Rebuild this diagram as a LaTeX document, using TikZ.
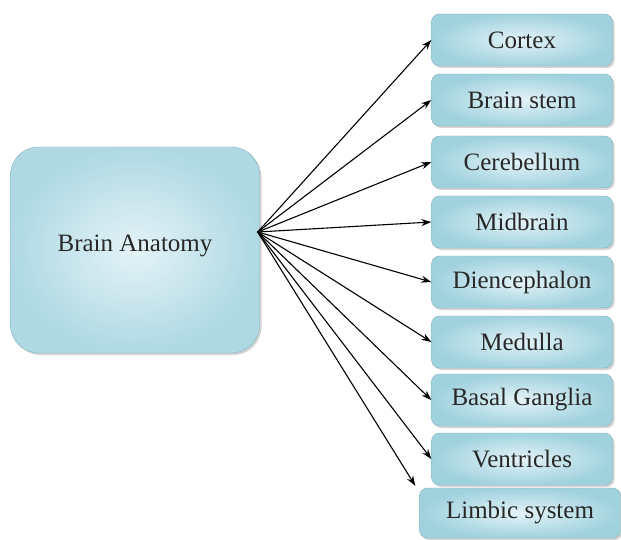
\documentclass[tikz,border=0pt]{standalone}
\usepackage{fontspec}
\setmainfont{Liberation Serif}
\usepackage{tikz}
\usetikzlibrary{arrows.meta,positioning,calc,shadows}
\definecolor{anatLight}{RGB}{228,243,248}
\definecolor{anatDark}{RGB}{160,210,222}
\definecolor{anatEdge}{RGB}{128,178,192}
\definecolor{anatText}{RGB}{40,40,40}
\begin{document}
\begin{tikzpicture}[x=1pt,y=-1pt,
  part/.style={rectangle,rounded corners=8pt,draw=anatEdge,
               inner color=anatLight,outer color=anatDark,
               minimum width=#1,minimum height=52pt,text=anatText,
               font=\fontsize{25}{29}\selectfont,
               drop shadow={shadow xshift=2pt,shadow yshift=-2pt,opacity=0.35}},
  part/.default=181pt,
  link/.style={-{Stealth[length=10pt,width=7pt]},line width=1.1pt}
]
\useasboundingbox (0,0) rectangle (621,540);
% Root box
\node[rectangle,rounded corners=28pt,draw=anatEdge,
      inner color=anatLight,outer color=anatDark!85,
      minimum width=249pt,minimum height=206pt,text=anatText,
      font=\fontsize{25}{29}\selectfont,
      drop shadow={shadow xshift=2pt,shadow yshift=-2pt,opacity=0.35}]
  (brain) at (135,250) {\raisebox{14pt}{Brain Anatomy}};
\coordinate (hub) at ($(brain.east)+(-2,-18)$);

% Parts
\foreach \id/\lbl/\ypos in {
  cortex/Cortex/40,
  stem/Brain stem/100,
  cereb/Cerebellum/162,
  mid/Midbrain/222,
  dien/Diencephalon/282,
  medulla/Medulla/342,
  basal/Basal Ganglia/400,
  ventr/Ventricles/459}
{
  \node[part] (\id) at (522,\ypos) {\lbl};
  \draw[link] (hub) -- (\id.west);
}
\node[part=201pt,minimum height=50pt] (limbic) at (520,513) {Limbic system};
\draw[link] (hub) -- ($(limbic.north west)+(-4,-2)$);
\end{tikzpicture}
\end{document}
